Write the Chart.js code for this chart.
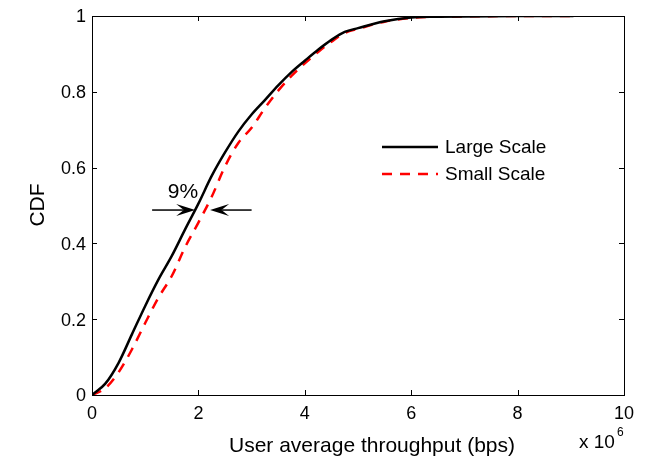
<!DOCTYPE html>
<html>
<head>
<meta charset="utf-8">
<script src="https://cdn.jsdelivr.net/npm/chart.js@4.4.1/dist/chart.umd.min.js"></script>
<style>
html,body{margin:0;padding:0;background:#fff;}
#wrap{width:646px;height:461px;position:relative;}
</style>
</head>
<body>
<div id="wrap"><canvas id="c" width="646" height="461"></canvas></div>
<script>
// ---- data (throughput in units of 1e6 bps) ----
const throughput = [0, 0.25, 0.5, 0.75, 1, 1.25, 1.5, 1.75, 2, 2.25, 2.5, 2.75, 3, 3.25, 3.5, 3.75, 4, 4.25, 4.5, 4.75, 5, 5.5, 6, 6.5, 7, 8, 9.05];
const largeScale = [0, 0.03, 0.085, 0.16, 0.235, 0.305, 0.367, 0.437, 0.505, 0.578, 0.64, 0.695, 0.74, 0.778, 0.817, 0.852, 0.882, 0.911, 0.937, 0.958, 0.968, 0.986, 0.996, 0.998, 0.999, 1, 1];
const smallScale = [0, 0.018, 0.06, 0.12, 0.19, 0.257, 0.314, 0.39, 0.455, 0.523, 0.603, 0.665, 0.705, 0.757, 0.803, 0.842, 0.875, 0.905, 0.932, 0.955, 0.966, 0.985, 0.995, 0.998, 0.999, 1, 1];
const seriesNames = ['Large Scale', 'Small Scale'];
const xTickLabels = ['0', '2', '4', '6', '8', '10'];
const yTickLabels = ['0', '0.2', '0.4', '0.6', '0.8', '1'];
const xTitle = 'User average throughput (bps)';
const yTitle = 'CDF';
const exponentBase = 'x 10';
const exponentPower = '6';
const annotationText = '9%';
const annotationY = 0.488;
const arrowLeft = [1.13, 1.94];   // tail, tip
const arrowRight = [3.0, 2.22];   // tail, tip

const FONT = '"Liberation Sans", Arial, Helvetica, sans-serif';

const toPts = (ys) => throughput.map((x, i) => ({x: x, y: ys[i]}));

const frame = {
  id: 'frame',
  afterDraw(chart) {
    const ctx = chart.ctx, a = chart.chartArea;
    const xs = chart.scales.x, ys = chart.scales.y;
    ctx.save();
    // box
    ctx.strokeStyle = '#000'; ctx.lineWidth = 1;
    ctx.strokeRect(Math.round(a.left) + 0.5, Math.round(a.top) + 0.5, Math.round(a.right - a.left), Math.round(a.bottom - a.top));
    // inward ticks
    const tl = 5;
    ctx.beginPath();
    xs.ticks.forEach(t => {
      const px = Math.round(xs.getPixelForValue(t.value)) + 0.5;
      ctx.moveTo(px, a.bottom); ctx.lineTo(px, a.bottom - tl);
      ctx.moveTo(px, a.top); ctx.lineTo(px, a.top + tl);
    });
    ys.ticks.forEach(t => {
      const py = Math.round(ys.getPixelForValue(t.value)) + 0.5;
      ctx.moveTo(a.left, py); ctx.lineTo(a.left + tl, py);
      ctx.moveTo(a.right, py); ctx.lineTo(a.right - tl, py);
    });
    ctx.stroke();

    // tick labels
    ctx.fillStyle = '#000';
    ctx.font = '18px ' + FONT;
    ctx.textAlign = 'center'; ctx.textBaseline = 'alphabetic';
    xs.ticks.forEach((t, i) => {
      ctx.fillText(xTickLabels[i], xs.getPixelForValue(t.value), 419);
    });
    ctx.textAlign = 'right'; ctx.textBaseline = 'middle';
    ys.ticks.forEach((t, i) => {
      ctx.fillText(yTickLabels[i], 86, ys.getPixelForValue(t.value) + 1.5);
    });

    // titles
    ctx.font = '21px ' + FONT;
    ctx.textAlign = 'center'; ctx.textBaseline = 'alphabetic';
    ctx.fillText(xTitle, 372, 452);
    ctx.save();
    ctx.translate(44, 205); ctx.rotate(-Math.PI / 2);
    ctx.fillText(yTitle, 0, 0);
    ctx.restore();
    // exponent
    ctx.textAlign = 'left'; ctx.textBaseline = 'middle';
    ctx.font = '19px ' + FONT;
    ctx.fillText(exponentBase, 579, 443);
    ctx.font = '12px ' + FONT;
    ctx.fillText(exponentPower, 617, 433);

    // legend
    const ds = chart.data.datasets;
    const ly = [147, 174];
    ds.forEach((d, i) => {
      ctx.save();
      ctx.strokeStyle = d.borderColor; ctx.lineWidth = d.borderWidth;
      ctx.setLineDash(d.borderDash || []);
      ctx.beginPath(); ctx.moveTo(382, ly[i]); ctx.lineTo(438, ly[i]); ctx.stroke();
      ctx.restore();
      ctx.fillStyle = '#000';
      ctx.font = '19px ' + FONT;
      ctx.textAlign = 'left'; ctx.textBaseline = 'middle';
      ctx.fillText(d.label, 445, ly[i] + 1);
    });

    // annotation
    const ay = ys.getPixelForValue(annotationY);
    const drawArrow = (tail, tip) => {
      const x0 = xs.getPixelForValue(tail), x1 = xs.getPixelForValue(tip);
      const dir = Math.sign(x1 - x0);
      const hl = 19, hw = 6;
      ctx.beginPath(); ctx.lineWidth = 1.5; ctx.strokeStyle = '#000';
      ctx.moveTo(x0, ay); ctx.lineTo(x1 - dir * hl * 0.6, ay); ctx.stroke();
      ctx.beginPath();
      ctx.moveTo(x1, ay);
      ctx.lineTo(x1 - dir * hl, ay - hw);
      ctx.lineTo(x1 - dir * hl * 0.6, ay);
      ctx.lineTo(x1 - dir * hl, ay + hw);
      ctx.closePath(); ctx.fillStyle = '#000'; ctx.fill();
    };
    drawArrow(arrowLeft[0], arrowLeft[1]);
    drawArrow(arrowRight[0], arrowRight[1]);
    ctx.font = '21px ' + FONT; ctx.textAlign = 'center'; ctx.textBaseline = 'alphabetic';
    ctx.fillText(annotationText, 183, 198);
    ctx.restore();
  }
};

new Chart(document.getElementById('c'), {
  type: 'line',
  data: {
    datasets: [
      {label: seriesNames[0], data: toPts(largeScale), borderColor: '#000000', borderWidth: 2.5, pointRadius: 0, fill: false, tension: 0, cubicInterpolationMode: 'monotone'},
      {label: seriesNames[1], data: toPts(smallScale), borderColor: '#ff0000', borderWidth: 2.5, borderDash: [10, 8], pointRadius: 0, fill: false, tension: 0, cubicInterpolationMode: 'monotone'}
    ]
  },
  options: {
    responsive: false,
    animation: false,
    devicePixelRatio: 1,
    layout: {padding: {top: 16, right: 22, left: 0, bottom: 0}},
    plugins: {legend: {display: false}, tooltip: {enabled: false}},
    scales: {
      x: {
        type: 'linear', min: 0, max: 10,
        grid: {display: false, drawTicks: false},
        border: {display: false},
        ticks: {display: false, stepSize: 2},
        afterFit: (s) => { s.height = 66; }
      },
      y: {
        type: 'linear', min: 0, max: 1,
        grid: {display: false, drawTicks: false},
        border: {display: false},
        ticks: {display: false, stepSize: 0.2},
        afterFit: (s) => { s.width = 92; }
      }
    }
  },
  plugins: [frame]
});
</script>
</body>
</html>
